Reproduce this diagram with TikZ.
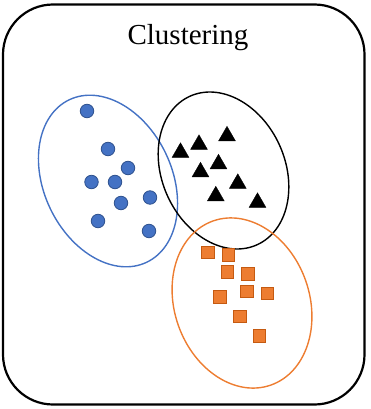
\documentclass[tikz,border=0pt]{standalone}
\usepackage{fontspec}
\setmainfont{Liberation Serif}
\usetikzlibrary{shapes.geometric}
\definecolor{ptblue}{HTML}{4472C4}
\definecolor{ptblueline}{HTML}{2F528F}
\definecolor{ptorange}{HTML}{ED7D31}
\definecolor{ptorangeline}{HTML}{C55A11}
\begin{document}
\begin{tikzpicture}[x=1pt,y=-1pt,
  frame/.style={draw=black, line width=2.2pt, rounded corners=50pt},
  cluster/.style={ellipse, draw, line width=1.4pt, inner sep=0pt},
  dot/.style={circle, fill=ptblue, draw=ptblueline, line width=0.8pt, minimum size=13.5pt, inner sep=0pt},
  tri/.style={regular polygon, regular polygon sides=3, fill=black, draw=black, line width=0.3pt, minimum size=19.5pt, inner sep=0pt},
  sq/.style={rectangle, fill=ptorange, draw=ptorangeline, line width=0.6pt, minimum size=12.5pt, inner sep=0pt}]
\useasboundingbox (0,0) rectangle (371,409);

% outer frame and title
\draw[frame] (3,4.5) rectangle (364.5,404.5);
\node[anchor=base, font=\fontsize{29}{29}\selectfont] (title) at (188,45) {Clustering};

% cluster outlines
\node[cluster, draw=ptblue, minimum width=128pt, minimum height=180pt, rotate=25.5] (cblue) at (108,181) {};
\node[cluster, draw=black, minimum width=123pt, minimum height=163pt, rotate=24.3] (cblack) at (223.5,170.5) {};
\node[cluster, draw=ptorange, minimum width=135pt, minimum height=174pt, rotate=19.4] (corange) at (242,303) {};

% blue circles
\node[dot] (b1) at (87,111) {};
\node[dot] (b2) at (108,149) {};
\node[dot] (b3) at (128,168) {};
\node[dot] (b4) at (91.5,182) {};
\node[dot] (b5) at (115,182) {};
\node[dot] (b6) at (121,203) {};
\node[dot] (b7) at (150,197.5) {};
\node[dot] (b8) at (98,221) {};
\node[dot] (b9) at (149,231) {};

% black triangles (circumcentre sits a little below the visual middle)
\node[tri] (t1) at (180.5,152.5) {};
\node[tri] (t2) at (199,144.5) {};
\node[tri] (t3) at (227,136) {};
\node[tri] (t4) at (200.5,172) {};
\node[tri] (t5) at (218.5,164) {};
\node[tri] (t6) at (237.8,183.5) {};
\node[tri] (t7) at (215.8,196) {};
\node[tri] (t8) at (257.5,202.5) {};

% orange squares
\node[sq] (s1) at (207.7,252.3) {};
\node[sq] (s2) at (228.2,254.7) {};
\node[sq] (s3) at (227.2,272) {};
\node[sq] (s4) at (248,274) {};
\node[sq] (s5) at (246.7,291.5) {};
\node[sq] (s6) at (267.3,293.3) {};
\node[sq] (s7) at (220,296.7) {};
\node[sq] (s8) at (239.7,316.3) {};
\node[sq] (s9) at (259.3,335.8) {};
\end{tikzpicture}
\end{document}
